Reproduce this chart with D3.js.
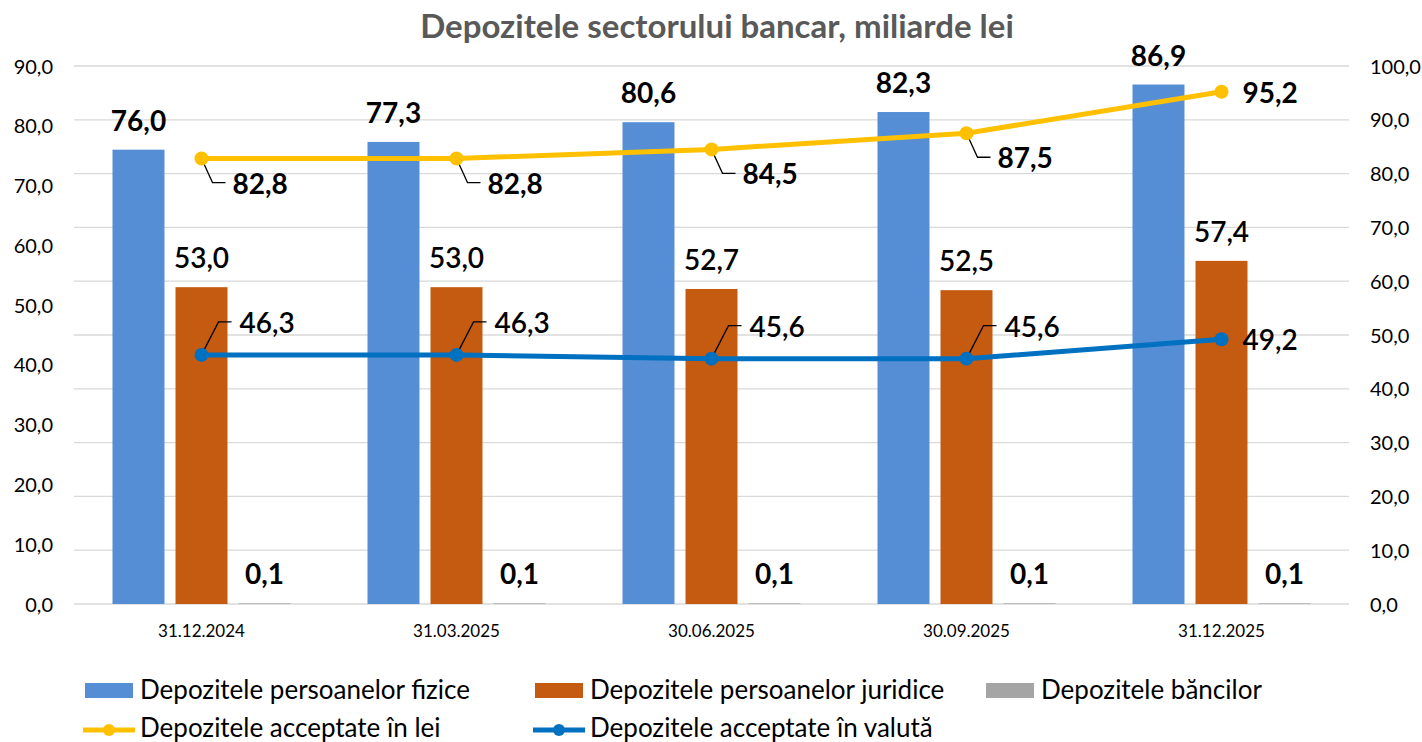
<html>
<head>
<meta charset="utf-8">
<script src="https://d3js.org/d3.v7.min.js"></script>
<style>
  body { margin: 0; background: #fff; }
  svg text { font-family: Lato, "Noto Sans", sans-serif; }
</style>
</head>
<body>
<svg id="chart" width="1422" height="742"></svg>
<script>
// data
var dates = ["31.12.2024", "31.03.2025", "30.06.2025", "30.09.2025", "31.12.2025"];
var fizice = [76.0, 77.3, 80.6, 82.3, 86.9];
var juridice = [53.0, 53.0, 52.7, 52.5, 57.4];
var banci = [0.1, 0.1, 0.1, 0.1, 0.1];
var inLei = [82.8, 82.8, 84.5, 87.5, 95.2];
var inValuta = [46.3, 46.3, 45.6, 45.6, 49.2];
var leftTicks = [0, 10, 20, 30, 40, 50, 60, 70, 80, 90];
var rightTicks = [0, 10, 20, 30, 40, 50, 60, 70, 80, 90, 100];

var barSeries = [
  {name: "Depozitele persoanelor fizice", values: fizice, color: "#558ed5", weight: 700},
  {name: "Depozitele persoanelor juridice", values: juridice, color: "#c55a11", weight: 600},
  {name: "Depozitele băncilor", values: banci, color: "#a5a5a5", weight: 700}
];
var lineSeries = [
  {name: "Depozitele acceptate în lei", values: inLei, color: "#ffc000", weight: 700, below: true},
  {name: "Depozitele acceptate în valută", values: inValuta, color: "#0070c0", weight: 600, below: false}
];

var fmt = function(v) { return d3.format(".1f")(v).replace(".", ","); };

var plotLeft = 74, plotRight = 1349, plotTop = 66, plotBottom = 604;
var svg = d3.select("#chart");

var x0 = d3.scaleBand().domain(dates).range([plotLeft, plotRight]);
var x1 = d3.scaleBand().domain(barSeries.map(function(s) { return s.name; }))
  .range([38.5, x0.bandwidth() - 38.5]).paddingInner(0.175);
var yL = d3.scaleLinear().domain([0, 90]).range([plotBottom, plotTop]);
var yR = d3.scaleLinear().domain([0, 100]).range([plotBottom, plotTop]);

// title
svg.append("text")
  .attr("x", 717).attr("y", 38)
  .attr("text-anchor", "middle")
  .style("font-size", "33px").style("font-weight", 700).style("fill", "#595959")
  .text("Depozitele sectorului bancar, miliarde lei");

// grid
svg.append("g").selectAll("line")
  .data(rightTicks).enter().append("line")
  .attr("x1", plotLeft).attr("x2", plotRight)
  .attr("y1", function(d) { return yR(d); }).attr("y2", function(d) { return yR(d); })
  .style("stroke", "#d9d9d9").style("stroke-width", 1.3);

// left axis
var axL = svg.append("g").attr("transform", "translate(" + (plotLeft - 21) + ",0)")
  .call(d3.axisLeft(yL).tickValues(leftTicks).tickFormat(fmt).tickSize(0));
axL.select(".domain").remove();
axL.selectAll("text").style("font-size", "20px").style("fill", "#000").attr("x", 0).attr("dy", "0.35em");

// right axis
var axR = svg.append("g").attr("transform", "translate(" + (plotRight + 21) + ",0)")
  .call(d3.axisRight(yR).tickValues(rightTicks).tickFormat(fmt).tickSize(0));
axR.select(".domain").remove();
axR.selectAll("text").style("font-size", "20px").style("fill", "#000").attr("x", 0).attr("dy", "0.35em");

// x axis
var axX = svg.append("g").attr("transform", "translate(0," + plotBottom + ")")
  .call(d3.axisBottom(x0).tickSize(0));
axX.select(".domain").remove();
axX.selectAll("text").style("font-size", "17px").style("fill", "#000").attr("y", 21).attr("dy", "0.71em");

// bars
var groups = svg.append("g").selectAll("g")
  .data(dates).enter().append("g")
  .attr("transform", function(d) { return "translate(" + x0(d) + ",0)"; });

barSeries.forEach(function(s) {
  groups.append("rect")
    .attr("x", x1(s.name))
    .attr("width", x1.bandwidth())
    .attr("y", function(d, i) { return yL(s.values[i]); })
    .attr("height", function(d, i) { return plotBottom - yL(s.values[i]); })
    .style("fill", s.color);
  groups.append("text")
    .attr("x", x1(s.name) + x1.bandwidth() / 2)
    .attr("y", function(d, i) { return yL(s.values[i]) - 19; })
    .attr("text-anchor", "middle")
    .style("font-size", "28px").style("font-weight", s.weight)
    .text(function(d, i) { return fmt(s.values[i]); });
});

// lines
var cx = function(i) { return x0(dates[i]) + x0.bandwidth() / 2; };
lineSeries.forEach(function(s) {
  var line = d3.line().x(function(d, i) { return cx(i); }).y(function(d) { return yR(d); });
  svg.append("path").datum(s.values)
    .attr("d", line)
    .style("fill", "none").style("stroke", s.color).style("stroke-width", 5)
    .style("stroke-linejoin", "round");
  var n = s.values.length;
  s.values.forEach(function(v, i) {
    var px = cx(i), py = yR(v);
    var g = svg.append("g");
    if (i < n - 1) {
      // leader line + label
      if (s.below) {
        g.append("path")
          .attr("d", "M" + px + "," + py + "L" + (px + 11) + "," + (py + 24) + "L" + (px + 24) + "," + (py + 24))
          .style("fill", "none").style("stroke", "#000").style("stroke-width", 1.3);
        g.append("text").attr("x", px + 31).attr("y", py + 35)
          .style("font-size", "28px").style("font-weight", s.weight).text(fmt(v));
      } else {
        g.append("path")
          .attr("d", "M" + px + "," + py + "L" + (px + 17) + "," + (py - 33) + "L" + (px + 30) + "," + (py - 33))
          .style("fill", "none").style("stroke", "#000").style("stroke-width", 1.3);
        g.append("text").attr("x", px + 38).attr("y", py - 22)
          .style("font-size", "28px").style("font-weight", s.weight).text(fmt(v));
      }
    } else {
      g.append("text").attr("x", px + 21).attr("y", py + 11)
        .style("font-size", "28px").style("font-weight", s.weight).text(fmt(v));
    }
    svg.append("circle").attr("cx", px).attr("cy", py).attr("r", 7).style("fill", s.color);
  });
});

// legend
var legendBars = [85, 535, 986];
barSeries.forEach(function(s, i) {
  var lx = legendBars[i];
  svg.append("rect").attr("x", lx).attr("y", 683).attr("width", 48).attr("height", 15).style("fill", s.color);
  svg.append("text").attr("x", lx + 55).attr("y", 699)
    .style("font-size", "26px").style("fill", "#000").text(s.name);
});
var legendLines = [83, 533];
lineSeries.forEach(function(s, i) {
  var lx = legendLines[i];
  svg.append("line").attr("x1", lx).attr("x2", lx + 52).attr("y1", 730).attr("y2", 730)
    .style("stroke", s.color).style("stroke-width", 5);
  svg.append("circle").attr("cx", lx + 26).attr("cy", 730).attr("r", 6).style("fill", s.color);
  svg.append("text").attr("x", lx + 57).attr("y", 737)
    .style("font-size", "26px").style("fill", "#000").text(s.name);
});
</script>
</body>
</html>
